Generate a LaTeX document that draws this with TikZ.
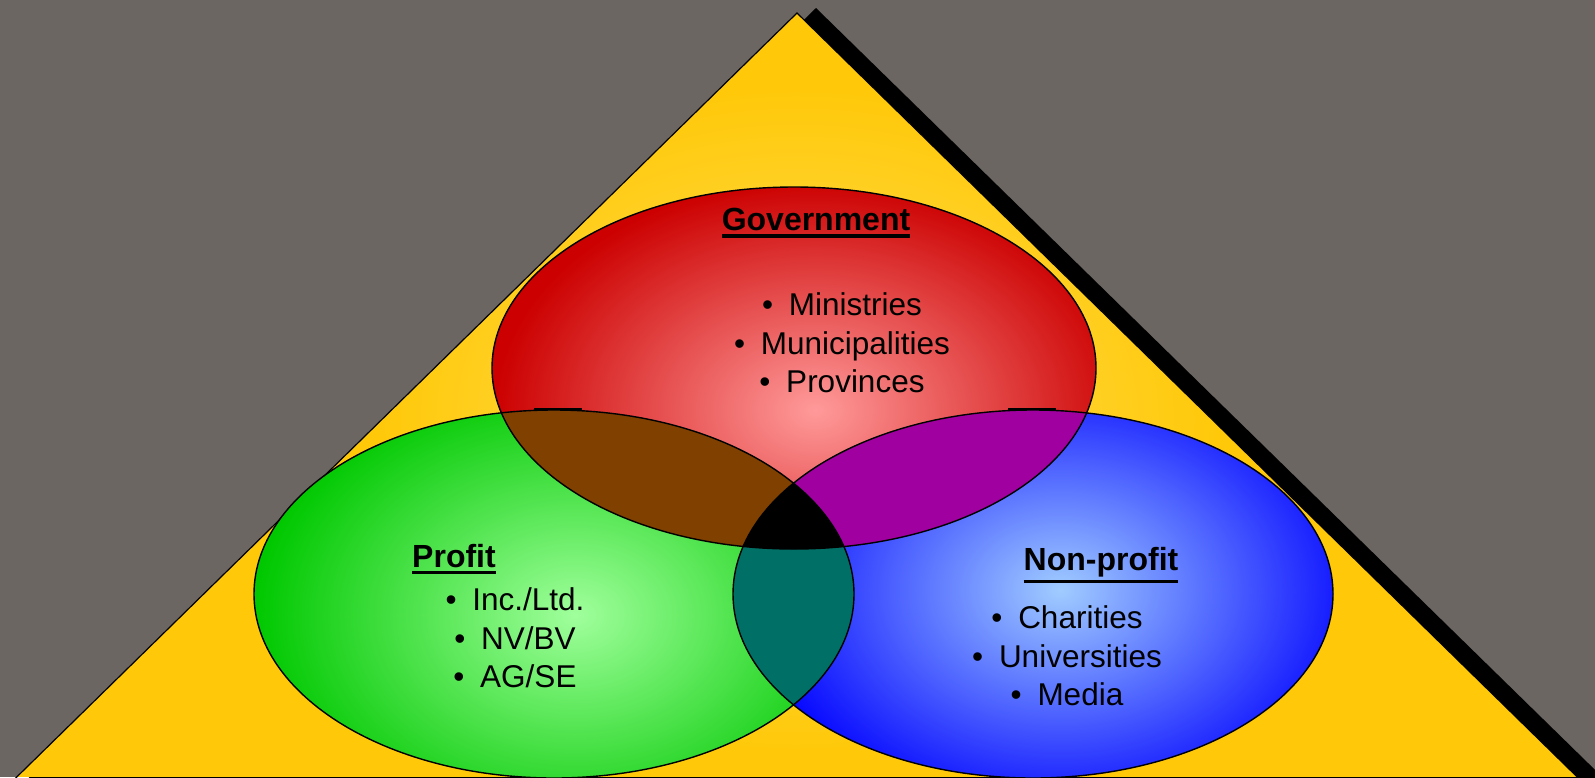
\documentclass[tikz,border=0pt]{standalone}
\usepackage{fontspec}
\setmainfont{Liberation Sans}
\definecolor{bggray}{HTML}{6B6662}
\definecolor{yelout}{HTML}{FFC90A}
\definecolor{yelin}{HTML}{FFDF5C}
\definecolor{redout}{HTML}{CC0000}
\definecolor{redin}{HTML}{FF9A9A}
\definecolor{grnout}{HTML}{00C800}
\definecolor{grnin}{HTML}{A0FF9C}
\definecolor{bluout}{HTML}{0000FF}
\definecolor{bluin}{HTML}{A0CCFF}
\definecolor{rgmix}{HTML}{804000}
\definecolor{rbmix}{HTML}{A000A0}
\definecolor{gbmix}{HTML}{007066}
\newcommand{\headul}[1]{\leavevmode\vtop{\hbox{#1}\kern3pt\hrule height 3.5pt}}
\newcommand{\itm}{•\kern0.5em}
\tikzset{
  rim/.style={draw=black,line width=1.4pt},
  headtext/.style={font=\fontsize{32}{38}\selectfont\bfseries,inner sep=0pt},
  itemtext/.style={font=\fontsize{31.5}{38.5}\selectfont,align=center,inner sep=0pt}
}
\begin{document}
\begin{tikzpicture}[x=1pt,y=1pt,yscale=-1,xscale=1]
\useasboundingbox (0,0) rectangle (1595,777);
%Shape: Rectangle [id:background]
\fill[bggray] (0,0) rectangle (1595,777);
%Shape: Triangle [id:shadow]
\fill[black] (816,8) -- (1634,808) -- (-2,808) -- cycle;
%Shape: Triangle [id:pyramid]
\begin{scope}
\clip (797,13) -- (1614,813) -- (-20,813) -- cycle;
\fill[yelout] (0,0) rectangle (1595,777);
\shade[inner color=yelin,outer color=yelout] (797,420) ellipse (420 and 330);
\end{scope}
\draw[line width=1.2pt] (-20,813) -- (797,13) -- (1614,813);

%Shape: Ellipse [id:government]
\begin{scope}
\clip (794,368) ellipse (302 and 181);
\fill[redout] (794,368) ellipse (302 and 181);
\shade[inner color=redin,outer color=redout] (815,410) ellipse (320 and 230);
\end{scope}
%Shape: Ellipse [id:profit]
\begin{scope}
\clip (554,594) ellipse (300 and 184);
\fill[grnout] (554,594) ellipse (300 and 184);
\shade[inner color=grnin,outer color=grnout] (575,615) ellipse (320 and 240);
\end{scope}
%Shape: Ellipse [id:nonprofit]
\begin{scope}
\clip (1033,594) ellipse (300 and 184);
\fill[bluout] (1033,594) ellipse (300 and 184);
\shade[inner color=bluin,outer color=bluout] (1060,590) ellipse (320 and 240);
\end{scope}

%Shape: Overlap [id:gov-profit]
\begin{scope}
\clip (794,368) ellipse (302 and 181);
\fill[rgmix] (554,594) ellipse (300 and 184);
\end{scope}
%Shape: Overlap [id:gov-nonprofit]
\begin{scope}
\clip (794,368) ellipse (302 and 181);
\fill[rbmix] (1033,594) ellipse (300 and 184);
\end{scope}
%Shape: Overlap [id:profit-nonprofit]
\begin{scope}
\clip (554,594) ellipse (300 and 184);
\fill[gbmix] (1033,594) ellipse (300 and 184);
\end{scope}
%Shape: Overlap [id:all]
\begin{scope}
\clip (794,368) ellipse (302 and 181);
\clip (554,594) ellipse (300 and 184);
\fill[black] (1033,594) ellipse (300 and 184);
\end{scope}

%Shape: Ellipse outlines
\draw[rim] (794,368) ellipse (302 and 181);
\draw[rim] (554,594) ellipse (300 and 184);
\draw[rim] (1033,594) ellipse (300 and 184);
%Straight Lines [id:tickleft]
\draw[line width=2.5pt] (534,409) -- (582,409);
%Straight Lines [id:tickright]
\draw[line width=2.5pt] (1008,409) -- (1056,409);

%Text
\node[headtext] (govhead) at (816,223) {\headul{Government}};
\node[itemtext] (govlist) at (842,343) {\itm Ministries\\\itm Municipalities\\\itm Provinces};
\node[headtext] (profhead) at (454,559) {\headul{Profit}};
\node[itemtext] (proflist) at (515,638) {\itm Inc./Ltd.\\\itm NV/BV\\\itm AG/SE};
\node[headtext] (nphead) at (1101,565) {\headul{Non-profit}};
\node[itemtext] (nplist) at (1067,656) {\itm Charities\\\itm Universities\\\itm Media};
\end{tikzpicture}
\end{document}
